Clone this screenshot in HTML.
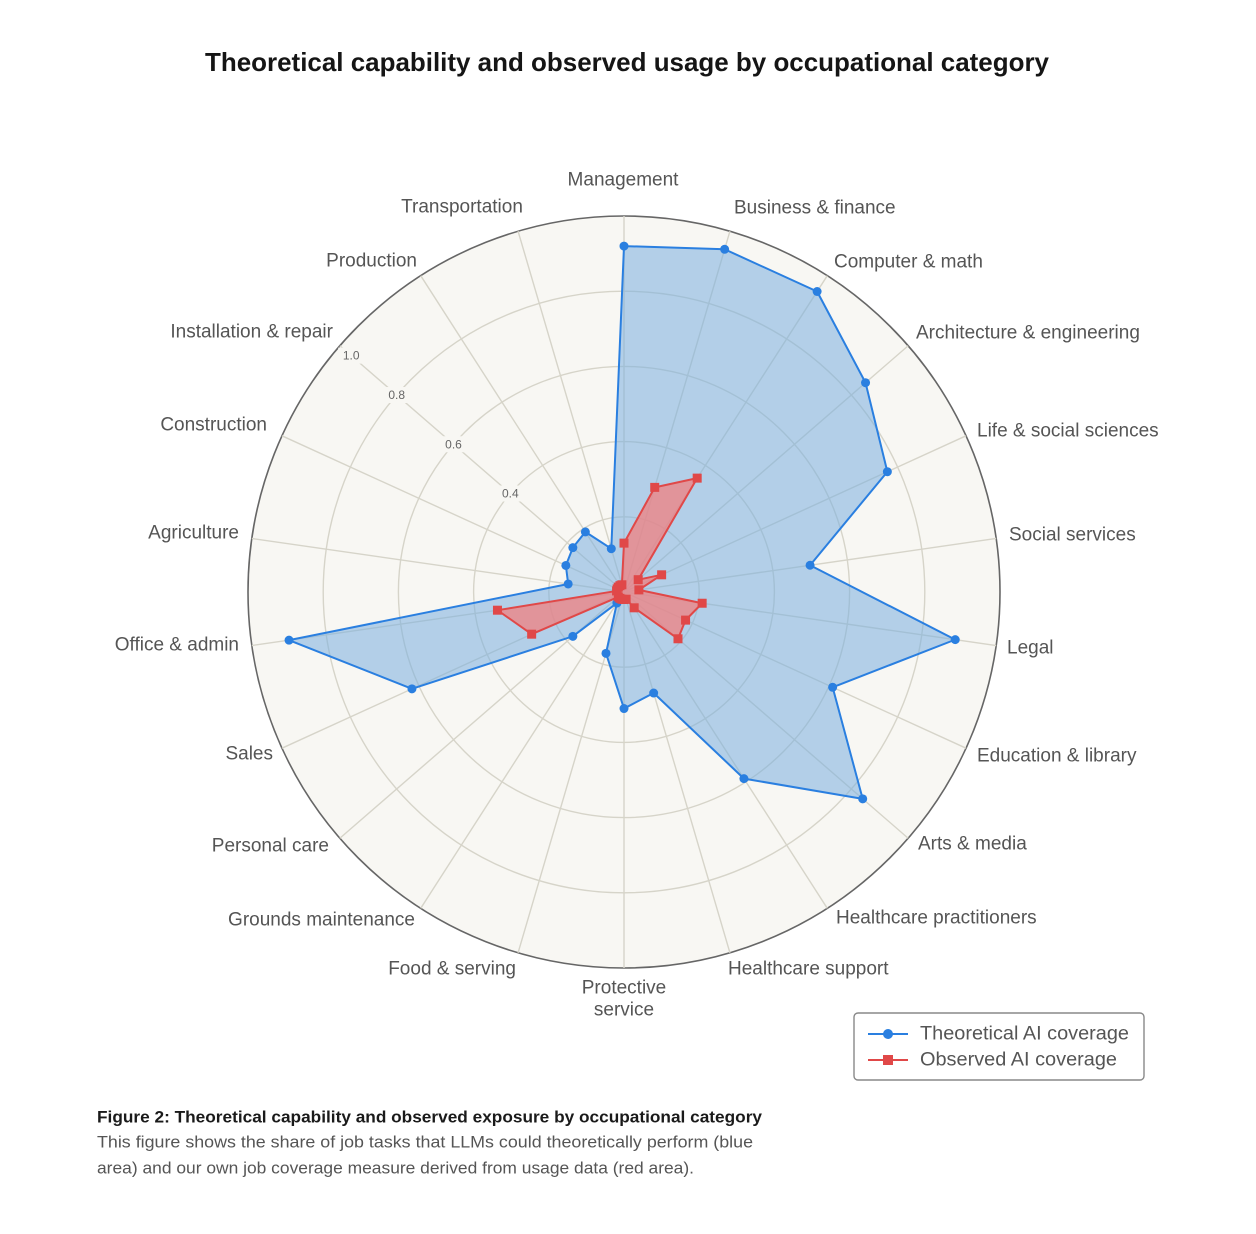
<!DOCTYPE html>
<html><head><meta charset="utf-8"><style>
html,body{margin:0;padding:0;background:#fff;}
svg{display:block;font-family:"Liberation Sans",sans-serif;}
</style></head><body>
<svg id="s" width="1256" height="1234" viewBox="0 0 1256 1234" xmlns="http://www.w3.org/2000/svg">
<rect width="1256" height="1234" fill="#fff"/>
<text x="205" y="62" textLength="844" lengthAdjust="spacingAndGlyphs" dominant-baseline="central" font-size="26" font-weight="bold" fill="#151515">Theoretical capability and observed usage by occupational category</text>
<circle cx="624" cy="592" r="376" fill="#f8f7f3" stroke="#666" stroke-width="1.6"/>
<g id="grid" stroke="#d6d4c9" stroke-width="1.4" fill="none"></g>
<g id="data"></g>
<g id="ticks" font-size="12" fill="#666" text-anchor="middle" dominant-baseline="central"></g>
<g font-size="19" fill="#555" dominant-baseline="central">
<text x="623" y="180" text-anchor="middle">Management</text>
<text x="462" y="207" text-anchor="middle">Transportation</text>
<text x="734" y="208">Business &amp; finance</text>
<text x="834" y="262">Computer &amp; math</text>
<text x="916" y="333">Architecture &amp; engineering</text>
<text x="977" y="431">Life &amp; social sciences</text>
<text x="1009" y="535">Social services</text>
<text x="1007" y="648">Legal</text>
<text x="977" y="756">Education &amp; library</text>
<text x="918" y="844">Arts &amp; media</text>
<text x="836" y="918">Healthcare practitioners</text>
<text x="728" y="969">Healthcare support</text>
<text x="624" y="988" text-anchor="middle">Protective</text>
<text x="624" y="1010" text-anchor="middle">service</text>
<text x="516" y="969" text-anchor="end">Food &amp; serving</text>
<text x="415" y="920" text-anchor="end">Grounds maintenance</text>
<text x="329" y="846" text-anchor="end">Personal care</text>
<text x="273" y="754" text-anchor="end">Sales</text>
<text x="239" y="645" text-anchor="end">Office &amp; admin</text>
<text x="239" y="533" text-anchor="end">Agriculture</text>
<text x="267" y="425" text-anchor="end">Construction</text>
<text x="333" y="332" text-anchor="end">Installation &amp; repair</text>
<text x="417" y="261" text-anchor="end">Production</text>
</g>
<rect x="854" y="1013" width="290" height="67" rx="4" fill="#fff" stroke="#888" stroke-width="1.4"/>
<line x1="868" y1="1034" x2="908" y2="1034" stroke="#2a7fe0" stroke-width="2"/>
<circle cx="888" cy="1034" r="5" fill="#2a7fe0"/>
<line x1="868" y1="1060" x2="908" y2="1060" stroke="#e04848" stroke-width="2"/>
<rect x="883" y="1055" width="10" height="10" fill="#e04848"/>
<g font-size="19" fill="#555" dominant-baseline="central">
<text x="920" y="1034" textLength="209" lengthAdjust="spacingAndGlyphs">Theoretical AI coverage</text>
<text x="920" y="1060" textLength="197" lengthAdjust="spacingAndGlyphs">Observed AI coverage</text>
</g>
<text x="97" y="1117" textLength="665" lengthAdjust="spacingAndGlyphs" font-size="17" font-weight="bold" fill="#1a1a1a" dominant-baseline="central">Figure 2: Theoretical capability and observed exposure by occupational category</text>
<text x="97" y="1142" textLength="656" lengthAdjust="spacingAndGlyphs" font-size="17" fill="#555" dominant-baseline="central">This figure shows the share of job tasks that LLMs could theoretically perform (blue</text>
<text x="97" y="1168" textLength="597" lengthAdjust="spacingAndGlyphs" font-size="17" fill="#555" dominant-baseline="central">area) and our own job coverage measure derived from usage data (red area).</text>
</svg>
<script>
(function(){
var NS="http://www.w3.org/2000/svg",cx=624,cy=592,R=376,N=22;
function el(t,a,p){var e=document.createElementNS(NS,t);for(var k in a)e.setAttribute(k,a[k]);p.appendChild(e);return e;}
function pt(i,v){var a=i*2*Math.PI/N;return [cx+R*v*Math.sin(a),cy-R*v*Math.cos(a)];}
var g=document.getElementById("grid");
[0.2,0.4,0.6,0.8].forEach(function(v){el("circle",{cx:cx,cy:cy,r:R*v},g);});
for(var i=0;i<N;i++){var p=pt(i,1);el("line",{x1:cx,y1:cy,x2:p[0],y2:p[1]},g);}
var blue=[0.92,0.95,0.95,0.85,0.77,0.5,0.89,0.61,0.84,0.59,0.28,0.31,0.17,0.035,0.18,0.62,0.90,0.15,0.17,0.18,0.19,0.12];
var red=[0.13,0.29,0.36,0.05,0.11,0.04,0.21,0.18,0.19,0.05,0.02,0.02,0.02,0.02,0.02,0.27,0.34,0.02,0.02,0.02,0.02,0.02];
var d=document.getElementById("data");
function series(vals,col,fill,op,sq){
 var pts=vals.map(function(v,i){return pt(i,v);});
 el("polygon",{points:pts.map(function(p){return p.join(",");}).join(" "),fill:fill,"fill-opacity":op,stroke:col,"stroke-width":2,"stroke-linejoin":"round"},d);
 pts.forEach(function(p){ if(sq)el("rect",{x:p[0]-4.5,y:p[1]-4.5,width:9,height:9,fill:col},d); else el("circle",{cx:p[0],cy:p[1],r:4.5,fill:col},d);});
}
series(blue,"#2a7fe0","#7aaedf",0.55,false);
series(red,"#e04848","#f08080",0.75,true);
var t=document.getElementById("ticks");
[[0.4,"0.4"],[0.6,"0.6"],[0.8,"0.8"],[0.96,"1.0"]].forEach(function(a){
 var ang=19*2*Math.PI/N;var x=cx+R*a[0]*Math.sin(ang),y=cy-R*a[0]*Math.cos(ang);
 el("rect",{x:x-13,y:y-8,width:26,height:16,fill:"#f8f7f3"},t);
 var tx=el("text",{x:x,y:y},t);tx.textContent=a[1];
});
})();
</script>
</body></html>
